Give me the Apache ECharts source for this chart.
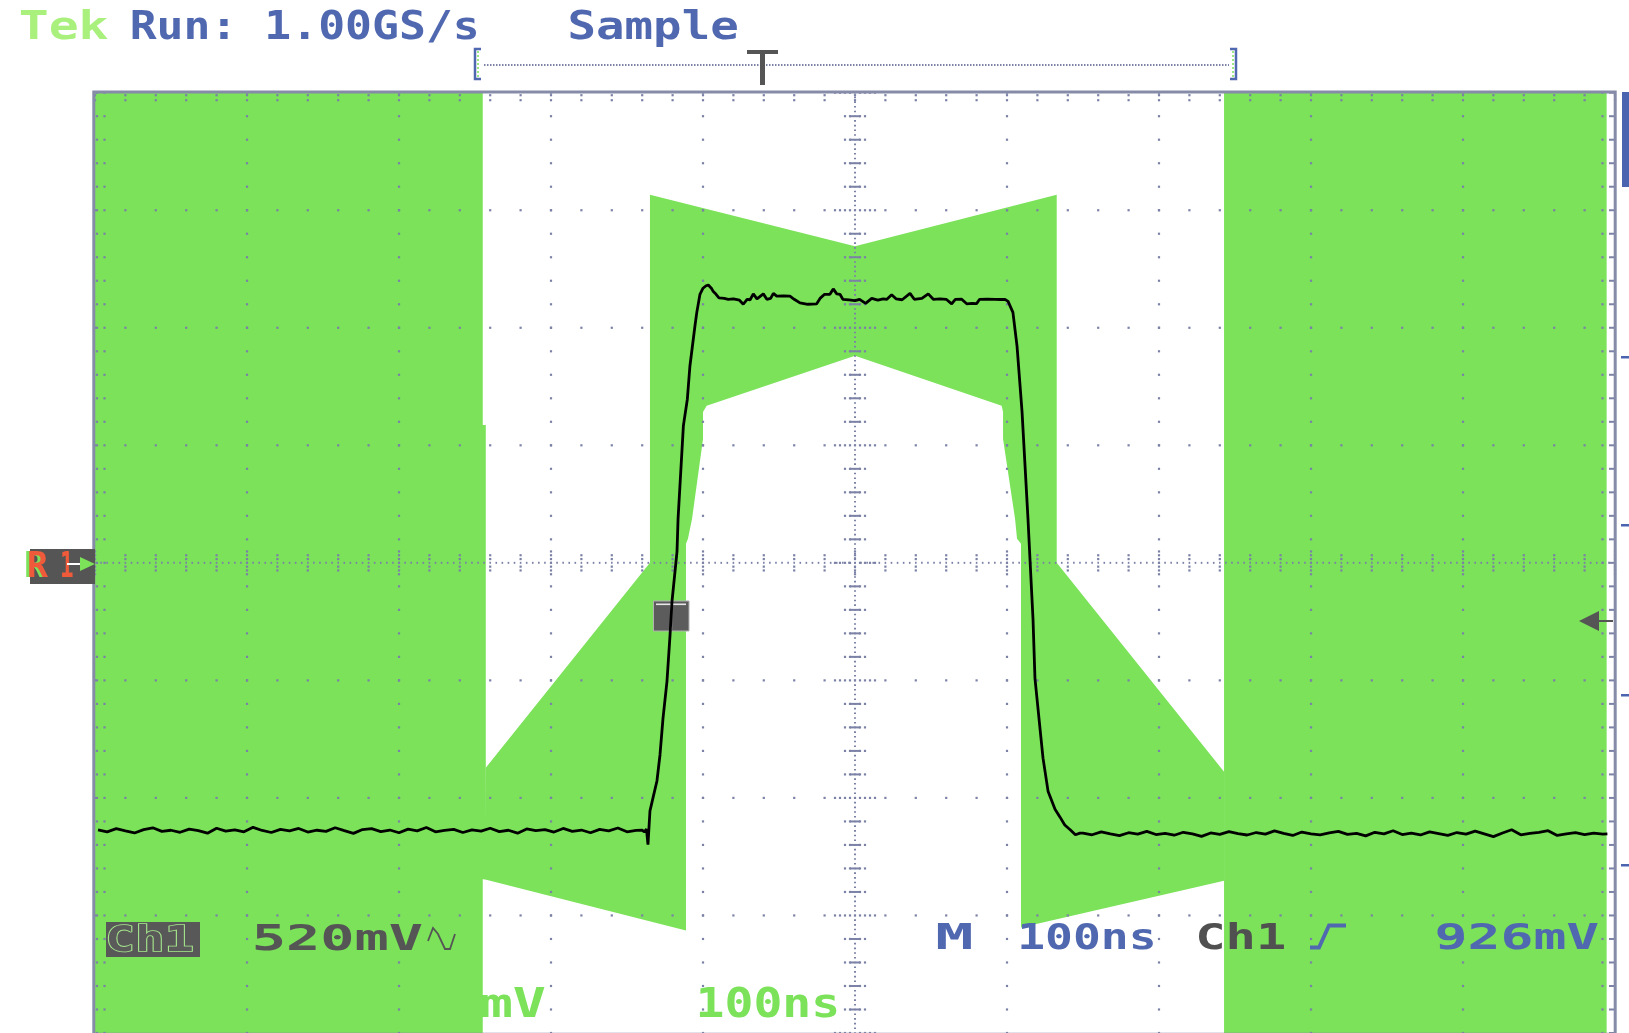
<!DOCTYPE html>
<html><head><meta charset="utf-8">
<script src="https://cdn.jsdelivr.net/npm/echarts@6/dist/echarts.min.js"></script>
<style>html,body{margin:0;padding:0;background:#fff;overflow:hidden}#c{width:1629px;height:1033px}</style>
</head><body><div id="c"></div>
<script>
// ---------------- DATA ----------------
// time axis in ns (100 ns/div), vertical axis in mV (520 mV/div)
const timeMin = -500, timeMax = 500, timeDiv = 100;
const voltMin = -2080, voltMax = 2080, voltDiv = 520;

const traceTime = [
 -498,-492,-486,-480,-474,-468,-462,-456,-450,-444,-438,-432,-426,-420,-414,-408,-402,-396,-390,-384,
 -378,-372,-366,-360,-354,-348,-342,-336,-330,-324,-318,-312,-306,-300,-294,-288,-282,-276,-270,-264,
 -258,-252,-246,-240,-234,-228,-222,-216,-210,-204,-198,-192,-186,-180,-174,-168,-162,-156,-150,-144,
 -140,-138.5,-137.2,-136.2,-134.9,-132.9,-130.3,-128.3,-126.3,-123.7,-121.7,-120.4,-117.1,-116.4,-112.9,
 -110.3,-108.6,-105.3,-104.1,-102,-100,-98,-96.5,-94.5,-93.2,-91.4,-89.5,
 -86,-83.4,-80,-76,-73.5,-71,-69,-66.9,-64.5,-60.3,-58,-55.5,-53.7,-51.5,-47,-42.8,-40,-36.2,-31,-25.2,
 -23,-20,-16.5,-14.3,-12,-9.9,-8,-4,0,3,7,11,15,18.6,21,24.1,27,31,36.2,39,44,48.2,51.5,56,60,63.6,66,
 70,73.5,77,80,82,87,92,96,98.7,
 100.7,103.9,106.6,109.9,113.8,115.1,117.1,118.4,121.7,123.7,127,131.6,134.9,138,141.4,145,148,
 150,156,162,168,174,180,186,192,198,204,210,216,222,228,234,240,246,252,258,264,270,276,282,288,294,
 300,306,312,318,324,330,336,342,348,354,360,366,372,378,384,390,396,402,408,414,420,426,432,438,444,
 450,456,462,468,474,480,486,492,495
];
const traceMV = [
 -1181,-1190,-1176,-1186,-1195,-1180,-1172,-1188,-1183,-1192,-1178,-1185,-1196,-1174,-1187,-1181,-1190,-1170,-1184,-1193,
 -1179,-1186,-1175,-1191,-1183,-1188,-1172,-1185,-1197,-1180,-1176,-1189,-1182,-1194,-1178,-1186,-1171,-1190,-1184,-1179,
 -1193,-1181,-1187,-1174,-1189,-1183,-1196,-1177,-1185,-1180,-1191,-1175,-1188,-1182,-1194,-1179,-1186,-1173,-1190,-1184,
 -1183,-1190,-1178,-1247,-1098,-1040,-965,-850,-687,-524,-321,-171,50,196,607,
 724,871,1048,1107,1188,1215,1226,1229,1215,1200,1188,1172,
 1170,1166,1168,1162,1144,1166,1164,1190,1168,1190,1166,1170,1192,1180,1181,1180,1166,1150,1144,1146,
 1170,1188,1188,1212,1190,1188,1166,1163,1160,1166,1148,1170,1162,1168,1166,1186,1168,1164,1192,1166,1170,1190,1166,1168,1166,1146,1166,
 1167,1146,1148,1147,1166,1167,1166,1165,1166,
 1157,1108,959,668,196,19,-246,-511,-732,-864,-1010,-1090,-1125,-1160,-1180,-1203,-1196,
 -1196,-1203,-1190,-1199,-1207,-1194,-1200,-1188,-1202,-1197,-1205,-1192,-1199,-1210,-1195,-1201,-1189,-1198,-1204,-1193,
 -1200,-1186,-1197,-1206,-1191,-1199,-1203,-1195,-1188,-1201,-1197,-1208,-1192,-1199,-1185,-1202,-1196,-1204,-1190,-1198,
 -1206,-1193,-1200,-1187,-1199,-1211,-1195,-1181,-1203,-1197,-1192,-1185,-1206,-1199,-1194,-1202,-1196,-1200,-1199
];

// mask polygons, vertices as [ns, mV]
const maskLeftBlock = [[-500,2080],[-244.9,2080],[-244.9,610],[-242.9,610],[-242.9,-1400],[-244.9,-1400],[-244.9,-2120],[-500,-2120]];
const maskRightBlock = [[242.8,2080],[494.5,2080],[494.5,-2120],[242.8,-2120]];
const maskCenter = [[-134.9,1629],[0,1401],[132.7,1629],[132.7,0],[242.8,-924],[242.8,-1406],[109.2,-1613],
 [109.2,85],[106.6,107],[105.3,195],[97.4,548],[97.4,667],[96.5,695],[0,916],[-97.6,695],[-100,667],[-100,548],
 [-107.2,195],[-109.9,107],[-111.2,85],[-111.2,-1626],[-243.9,-1400],[-242.9,-907],[-134.9,0]];
const maskPolys = [maskLeftBlock, maskRightBlock, maskCenter];

// header / status texts
const headerTexts = ['Tek', 'Run: 1.00GS/s', 'Sample'];
const statusTexts = ['Ch1', '520mV', 'M', '100ns', 'Ch1', '926mV'];
const ghostTexts = ['mV', '100ns'];

// ---------------- STYLE ----------------
const GREEN = '#7be25a';
const DOT = '#7b82a6';
const BORDER = '#868ca8';
const BLUE = '#5068b0';
const DARK = '#555555';

const mctx = document.createElement('canvas').getContext('2d');
const FAM = '"DejaVu Sans Mono", monospace';
const WEIGHT = 'bold';
const YSHIFT = 3.2;
function fitText(str, x0, x1, baseline, capH, color, extra) {
  const fs = capH / 0.729;
  const font = WEIGHT + ' ' + fs.toFixed(2) + 'px ' + FAM;
  mctx.font = font;
  const m = mctx.measureText(str);
  const ink = m.actualBoundingBoxLeft + m.actualBoundingBoxRight;
  const sx = (x1 - x0) / ink;
  const el = {
    type: 'text', z: 10,
    x: x0 + m.actualBoundingBoxLeft * sx, y: baseline - capH / 2 + YSHIFT, scaleX: sx,
    style: { text: str, font: font, fill: color, align: 'left', verticalAlign: 'middle',
             textAlign: 'left', textVerticalAlign: 'middle' }
  };
  if (extra) { Object.assign(el.style, extra.style || {}); if (extra.z !== undefined) el.z = extra.z; }
  return el;
}

function graticule(params, api) {
  const kids = [];
  const dot = (px, py, w, h) => { w = w || 2.2; h = h || 2.2;
    kids.push({type: 'rect', shape: {x: px - w / 2, y: py - h / 2, width: w, height: h}, style: {fill: DOT}}); };
  const X = t => api.coord([t, 0])[0];
  const Y = v => api.coord([0, v])[1];
  const x0 = X(timeMin), x1 = X(timeMax), y0 = Y(voltMax), y1 = Y(voltMin), xc = X(0), yc = Y(0);
  const sx = (X(timeDiv) - X(0)) / 5, sy = (Y(0) - Y(voltDiv)) / 5;
  const nx = Math.round((timeMax - timeMin) / timeDiv), ny = Math.round((voltMax - voltMin) / voltDiv);
  for (let k = 1; k < nx; k++) { if (k === nx / 2) continue; const x = x0 + k * 5 * sx; for (let j = 0; j <= ny * 5; j++) dot(x, y0 + j * sy); }
  for (let k = 1; k < ny; k++) { if (k === ny / 2) continue; const y = y0 + k * 5 * sy; for (let i = 0; i <= nx * 5; i++) dot(x0 + i * sx, y); }
  // center vertical
  for (let j = 0; j <= ny * 25; j++) dot(xc, y0 + j * sy / 5, 2, 1.6);
  for (let j = 0; j <= ny * 5; j++) { const y = y0 + j * sy; const ext = (j % 5 === 0) ? 4 : 2;
    for (let m = 1; m <= ext; m++) { dot(xc - m * 5, y); dot(xc + m * 5, y); }
    if (j % 5 !== 0) kids.push({type: 'rect', shape: {x: xc - 5, y: y - 1, width: 10, height: 2}, style: {fill: DOT}}); }
  // center horizontal
  for (let i = 0; i <= nx * 25; i++) dot(x0 + i * sx / 5, yc, 1.6, 2);
  for (let i = 0; i <= nx * 5; i++) { const x = x0 + i * sx; const ext = (i % 5 === 0) ? 3 : 2;
    for (let m = 1; m <= ext; m++) { dot(x, yc - m * 3.8); dot(x, yc + m * 3.8); } }
  // edge ticks
  for (let i = 0; i <= nx * 5; i++) { const x = x0 + i * sx; dot(x, y0 + 2.5); dot(x, y0 + 7.5); }
  for (let j = 0; j <= ny * 5; j++) { const y = y0 + j * sy; dot(x0 + 2, y); dot(x0 + 9.5, y); dot(x1 - 12.5, y);
    kids.push({type: 'rect', shape: {x: x1 - 6, y: y - 1, width: 5, height: 2}, style: {fill: DOT}}); }
  kids.push({type: 'rect', shape: {x: x0 - 1.2, y: y0 - 0.8, width: x1 - x0 + 1.4, height: y1 - y0 + 2},
             style: {fill: 'none', stroke: BORDER, lineWidth: 3}});
  return {type: 'group', children: kids};
}

function maskItem(params, api) {
  const poly = maskPolys[params.dataIndex];
  return {type: 'polygon', shape: {points: poly.map(p => api.coord(p))}, style: {fill: GREEN}};
}

// ---------------- CHROME (graphic) ----------------
const g = [];
// header
g.push(fitText(headerTexts[0], 20, 108, 40, 28.3, '#a9f07d'));
g.push(fitText(headerTexts[1], 132, 477, 40, 28.3, BLUE));
g.push(fitText(headerTexts[2], 570, 737, 40, 28.3, BLUE));
// record bracket
g.push({type: 'line', z: 10, shape: {x1: 484, y1: 65, x2: 1229, y2: 65}, style: {stroke: DOT, lineWidth: 2, lineDash: [1.5, 1.5]}});
g.push({type: 'polyline', z: 10, shape: {points: [[481, 49], [475, 49], [475, 79], [481, 79]]}, style: {stroke: BLUE, lineWidth: 2.5, fill: 'none'}});
g.push({type: 'line', z: 11, shape: {x1: 478, y1: 51, x2: 478, y2: 77}, style: {stroke: GREEN, lineWidth: 1.5, lineDash: [2, 2]}});
g.push({type: 'polyline', z: 10, shape: {points: [[1230, 49], [1236, 49], [1236, 79], [1230, 79]]}, style: {stroke: BLUE, lineWidth: 2.5, fill: 'none'}});
g.push({type: 'line', z: 11, shape: {x1: 1233, y1: 51, x2: 1233, y2: 77}, style: {stroke: GREEN, lineWidth: 1.5, lineDash: [2, 2]}});
g.push({type: 'rect', z: 11, shape: {x: 747, y: 50, width: 31, height: 4}, style: {fill: DARK}});
g.push({type: 'rect', z: 11, shape: {x: 760, y: 50, width: 5, height: 35}, style: {fill: DARK}});
// right-side indicators
g.push({type: 'rect', z: 10, shape: {x: 1622, y: 92, width: 7, height: 95}, style: {fill: '#4a64b0'}});
[357, 525, 695, 865].forEach(y => g.push({type: 'rect', z: 10, shape: {x: 1621, y: y - 1, width: 8, height: 2.5}, style: {fill: '#4a64b0'}}));
g.push({type: 'polygon', z: 10, shape: {points: [[1579, 621], [1599, 611], [1599, 631]]}, style: {fill: DARK}});
g.push({type: 'rect', z: 10, shape: {x: 1598, y: 620, width: 15, height: 2}, style: {fill: DARK}});
// ground marker
g.push({type: 'rect', z: 10, shape: {x: 30, y: 549, width: 65, height: 35}, style: {fill: DARK}});
g.push(fitText('R', 26, 46, 577, 25.5, GREEN, {z: 11}));
g.push(fitText('R', 29, 49, 577, 25.5, '#ef5a3a', {z: 12}));
g.push(fitText('1', 62, 73, 577, 25.5, '#ef5a3a', {z: 12}));
g.push({type: 'rect', z: 12, shape: {x: 67, y: 563, width: 15, height: 2}, style: {fill: '#ffffff'}});
g.push({type: 'polygon', z: 12, shape: {points: [[80, 557], [95, 564], [80, 571]]}, style: {fill: GREEN}});
// trigger point marker on the trace
g.push({type: 'rect', z: 4, shape: {x: 653.5, y: 601, width: 35.5, height: 30}, style: {fill: '#5c5c5c', stroke: '#b0b0b0', lineWidth: 1}});
g.push({type: 'rect', z: 4, shape: {x: 656, y: 603.5, width: 30, height: 1.6}, style: {fill: '#e8e8e8'}});
g.push({type: 'rect', z: 4, shape: {x: 670.5, y: 604, width: 1.6, height: 26}, style: {fill: '#cfcfcf'}});
// status line
g.push({type: 'rect', z: 10, shape: {x: 106, y: 922, width: 94, height: 35}, style: {fill: '#585858'}});
g.push(fitText(statusTexts[0], 108, 193, 952, 26.5, '#5a5a5a', {style: {stroke: '#a6e88c', lineWidth: 1.6}}));
g.push(fitText(statusTexts[1], 255, 423, 950, 25.5, DARK));
g.push({type: 'polyline', z: 10, shape: {points: [[428, 941], [433, 928], [438, 934], [445, 949], [450, 949], [455, 934]]}, style: {stroke: DARK, lineWidth: 1.8, fill: 'none'}});
g.push(fitText(statusTexts[2], 937, 972, 950, 26.5, BLUE));
g.push(fitText(statusTexts[3], 1021, 1153, 950, 26.5, BLUE));
g.push(fitText(statusTexts[4], 1198, 1285, 950, 26.5, '#505050'));
g.push({type: 'polyline', z: 10, shape: {points: [[1310, 947.5], [1319, 947.5], [1329, 925.5], [1346, 925.5]]}, style: {stroke: BLUE, lineWidth: 3.8, fill: 'none'}});
g.push(fitText(statusTexts[5], 1436, 1598, 950, 26.5, BLUE));
// ghost texts underneath the mask
g.push(fitText(ghostTexts[0], 481, 545, 1018, 30, GREEN, {z: 0}));
g.push(fitText(ghostTexts[1], 699, 837, 1018, 30, GREEN, {z: 0}));

// ---------------- CHART ----------------
const chart = echarts.init(document.getElementById('c'), null, {renderer: 'canvas'});
chart.setOption({
  backgroundColor: '#ffffff',
  animation: false,
  grid: {left: 95, top: 92.7, width: 1520, height: 943.2, containLabel: false, show: false},
  xAxis: {type: 'value', min: timeMin, max: timeMax, interval: timeDiv, show: false},
  yAxis: {type: 'value', min: voltMin, max: voltMax, interval: voltDiv, show: false},
  series: [
    {type: 'custom', name: 'mask', z: 1, silent: true, renderItem: maskItem,
     data: maskPolys.map((p, i) => [i, 0]), encode: {x: 0, y: 1}},
    {type: 'custom', name: 'graticule', z: 3, silent: true, renderItem: graticule,
     data: [[0, 0]], encode: {x: 0, y: 1}},
    {type: 'line', name: 'Ch1', z: 5, silent: true, symbol: 'none', clip: true,
     data: traceTime.map((t, i) => [t, traceMV[i]]),
     lineStyle: {color: '#000000', width: 2.8}}
  ],
  graphic: {elements: g}
});
</script>
</body></html>
